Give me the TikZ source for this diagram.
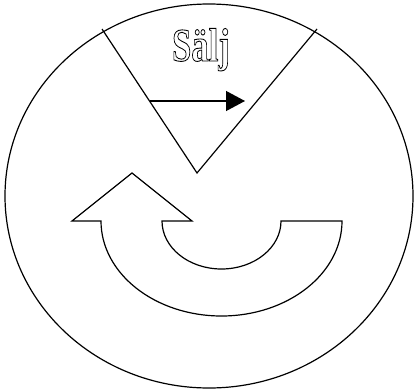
\documentclass[tikz,border=0pt]{standalone}
\usepackage{fontspec}
\setmainfont{Liberation Serif}
\usepackage{tikz}
\usetikzlibrary{arrows.meta,shapes.geometric,positioning,calc}

\newcommand{\outlinetext}[1]{%
  \special{pdf:literal direct 1 Tr 0.9 w}#1\special{pdf:literal direct 0 Tr}}

\begin{document}
\begin{tikzpicture}[
  x=1pt, y=1pt,
  every path/.style={line width=1.2pt},
  rim/.style={ellipse, draw, line width=1.2pt, inner sep=0pt,
              minimum width=408pt, minimum height=384pt},
  title/.style={font=\fontsize{47}{50}\selectfont\bfseries, inner sep=0pt, anchor=base},
  arrow/.style={-{Triangle[length=19pt, width=20pt]}},
  turn/.style={draw, fill=white, line width=1.2pt},
]
\useasboundingbox (0,0) rectangle (414,389);

%% Outer disc
\node[rim] (disc) at (209,193) {};

%% V wedge
\coordinate (vl) at (102,360);
\coordinate (vtip) at (197,216);
\coordinate (vr) at (317,360);
\draw (vl) -- (vtip) -- (vr);

%% Label
\node[title] (salj) at (201,328) {\scalebox{0.74}[1]{\outlinetext{Sälj}}};

%% Arrow inside the wedge
\coordinate (astart) at ($(vl)!0.5!(vtip)$);
\coordinate (aend) at (245,288);
\draw[arrow] (astart) -- (aend);

%% Curved return arrow
\coordinate (rtip) at (132,216);
\draw[turn] (rtip) -- (192,168) -- (162,168)
  arc[start angle=180, end angle=360, x radius=59.5pt, y radius=48pt]
  -- (342,168)
  arc[start angle=0, end angle=-180, x radius=120.5pt, y radius=95pt]
  -- (72,168) -- cycle;

\end{tikzpicture}
\end{document}
